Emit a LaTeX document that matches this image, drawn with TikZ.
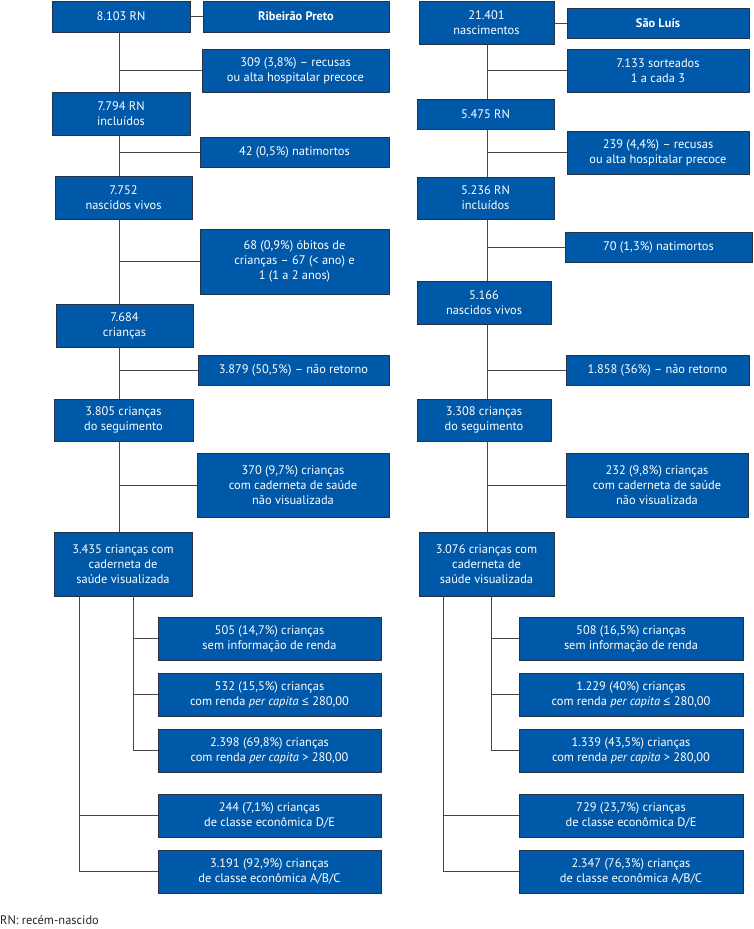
\documentclass[tikz,border=0pt]{standalone}
\usepackage{fontspec}
\setmainfont{PT Sans}
\newfontfamily\symfont{Open Sans}
\newcommand{\leqsym}{{\symfont ≤}}
\definecolor{boxblue}{RGB}{0,88,168}
\definecolor{boxedge}{RGB}{40,50,70}
\definecolor{conn}{RGB}{70,70,70}
\begin{document}
\begin{tikzpicture}[x=1pt,y=-1pt,
  bx/.style={draw=boxedge,line width=0.9pt,fill=boxblue,text=white,inner sep=0pt,outer sep=0pt,
    align=center,font=\fontsize{12.4}{15}\selectfont},
  cn/.style={draw=conn,line width=1pt}]
\useasboundingbox (0,0) rectangle (754,929);
% ---------- left column ----------
\coordinate (tL) at (119,0);
\coordinate (sL1) at (79,0);
\coordinate (sL2) at (133,0);
\node[bx,minimum width=138,minimum height=31] (a1) at (121,16.5) {8.103 RN};
\node[bx,minimum width=186,minimum height=31] (rp) at (296,16.5) {\textbf{Ribeirão Preto}};
\node[bx,minimum width=187,minimum height=43] (b1) at (295.5,70.5) {309 (3,8\%) – recusas\\ou alta hospitalar precoce};
\node[bx,minimum width=138,minimum height=43] (a2) at (121,113.5) {7.794 RN\\incluídos};
\node[bx,minimum width=189,minimum height=30] (b2) at (294.5,152) {42 (0,5\%) natimortos};
\node[bx,minimum width=137,minimum height=43] (a3) at (123.5,197.5) {7.752\\nascidos vivos};
\node[bx,minimum width=189,minimum height=65] (b3) at (294.5,261.5) {68 (0,9\%) óbitos de\\crianças – 67 (< ano) e\\1 (1 a 2 anos)};
\node[bx,minimum width=137,minimum height=43] (a4) at (124.5,325.5) {7.684\\crianças};
\node[bx,minimum width=191,minimum height=30] (b4) at (293.5,370) {3.879 (50,5\%) – não retorno};
\node[bx,minimum width=139,minimum height=42] (a5) at (123.5,420) {3.805 crianças\\do seguimento};
\node[bx,minimum width=192,minimum height=64] (b5) at (293,485) {370 (9,7\%) crianças\\com caderneta de saúde\\não visualizada};
\node[bx,minimum width=138,minimum height=64] (a6) at (123,564) {3.435 crianças com\\caderneta de\\saúde visualizada};
\node[bx,minimum width=223,minimum height=43] (c1) at (269.5,638.5) {505 (14,7\%) crianças\\sem informação de renda};
\node[bx,minimum width=223,minimum height=43] (c2) at (269.5,694.5) {532 (15,5\%) crianças\\com renda \textit{per capita} \leqsym{} 280,00};
\node[bx,minimum width=223,minimum height=43] (c3) at (269.5,750.5) {2.398 (69,8\%) crianças\\com renda \textit{per capita} > 280,00};
\node[bx,minimum width=223,minimum height=43] (c4) at (269.5,815.5) {244 (7,1\%) crianças\\de classe econômica D/E};
\node[bx,minimum width=223,minimum height=43] (c5) at (269.5,871.5) {3.191 (92,9\%) crianças\\de classe econômica A/B/C};
% ---------- right column ----------
\coordinate (tR) at (487,0);
\coordinate (sR1) at (443,0);
\coordinate (sR2) at (491,0);
\node[bx,minimum width=135,minimum height=43] (d1) at (486.5,22.5) {21.401\\nascimentos};
\node[bx,minimum width=182,minimum height=30] (sl) at (658,23) {\textbf{São Luís}};
\node[bx,minimum width=182,minimum height=43] (e1) at (658,70.5) {7.133 sorteados\\1 a cada 3};
\node[bx,minimum width=137,minimum height=30] (d2) at (485.5,114) {5.475 RN};
\node[bx,minimum width=182,minimum height=43] (e2) at (658,152.5) {239 (4,4\%) – recusas\\ou alta hospitalar precoce};
\node[bx,minimum width=137,minimum height=42] (d3) at (485.5,198) {5.236 RN\\incluídos};
\node[bx,minimum width=187,minimum height=30] (e3) at (658.5,247) {70 (1,3\%) natimortos};
\node[bx,minimum width=134,minimum height=43] (d4) at (484,302.5) {5.166\\nascidos vivos};
\node[bx,minimum width=183,minimum height=30] (e4) at (657.5,370) {1.858 (36\%) – não retorno};
\node[bx,minimum width=134,minimum height=42] (d5) at (484,420) {3.308 crianças\\do seguimento};
\node[bx,minimum width=182,minimum height=64] (e5) at (657,485) {232 (9,8\%) crianças\\com caderneta de saúde\\não visualizada};
\node[bx,minimum width=135,minimum height=64] (d6) at (486.5,564) {3.076 crianças com\\caderneta de\\saúde visualizada};
\node[bx,minimum width=224,minimum height=43] (f1) at (631,638.5) {508 (16,5\%) crianças\\sem informação de renda};
\node[bx,minimum width=224,minimum height=43] (f2) at (631,694.5) {1.229 (40\%) crianças\\com renda \textit{per capita} \leqsym{} 280,00};
\node[bx,minimum width=224,minimum height=43] (f3) at (631,750.5) {1.339 (43,5\%) crianças\\com renda \textit{per capita} > 280,00};
\node[bx,minimum width=224,minimum height=43] (f4) at (631,815.5) {729 (23,7\%) crianças\\de classe econômica D/E};
\node[bx,minimum width=224,minimum height=43] (f5) at (631,871.5) {2.347 (76,3\%) crianças\\de classe econômica A/B/C};
% footnote
\node[anchor=base west,inner sep=0pt,text=black!85,font=\fontsize{12.4}{14}\selectfont] (fn) at (0,924) {RN: recém-nascido};
% ---------- connectors left ----------
\begin{scope}[on background layer/.try]
\draw[cn] (a1.east) -- (rp.west);
\draw[cn] (a1.south -| tL) -- (a2.north -| tL);
\draw[cn] (tL |- b1.west) -- (b1.west);
\draw[cn] (a2.south -| tL) -- (a3.north -| tL);
\draw[cn] (tL |- b2.west) -- (b2.west);
\draw[cn] (a3.south -| tL) -- (a4.north -| tL);
\draw[cn] (tL |- b3.west) -- (b3.west);
\draw[cn] (a4.south -| tL) -- (a5.north -| tL);
\draw[cn] (tL |- b4.west) -- (b4.west);
\draw[cn] (a5.south -| tL) -- (a6.north -| tL);
\draw[cn] (tL |- b5.west) -- (b5.west);
\draw[cn] (a6.south -| sL2) -- (sL2 |- c3.west) -- (c3.west);
\draw[cn] (sL2 |- c1.west) -- (c1.west);
\draw[cn] (sL2 |- c2.west) -- (c2.west);
\draw[cn] (a6.south -| sL1) -- (sL1 |- c5.west) -- (c5.west);
\draw[cn] (sL1 |- c4.west) -- (c4.west);
% ---------- connectors right ----------
\draw[cn] (d1.east |- sl.west) -- (sl.west);
\draw[cn] (d1.south -| tR) -- (d2.north -| tR);
\draw[cn] (tR |- e1.west) -- (e1.west);
\draw[cn] (d2.south -| tR) -- (d3.north -| tR);
\draw[cn] (tR |- e2.west) -- (e2.west);
\draw[cn] (d3.south -| tR) -- (d4.north -| tR);
\draw[cn] (tR |- e3.west) -- (e3.west);
\draw[cn] (d4.south -| tR) -- (d5.north -| tR);
\draw[cn] (tR |- e4.west) -- (e4.west);
\draw[cn] (d5.south -| tR) -- (d6.north -| tR);
\draw[cn] (tR |- e5.west) -- (e5.west);
\draw[cn] (d6.south -| sR2) -- (sR2 |- f3.west) -- (f3.west);
\draw[cn] (sR2 |- f1.west) -- (f1.west);
\draw[cn] (sR2 |- f2.west) -- (f2.west);
\draw[cn] (d6.south -| sR1) -- (sR1 |- f5.west) -- (f5.west);
\draw[cn] (sR1 |- f4.west) -- (f4.west);
\end{scope}
\end{tikzpicture}
\end{document}
